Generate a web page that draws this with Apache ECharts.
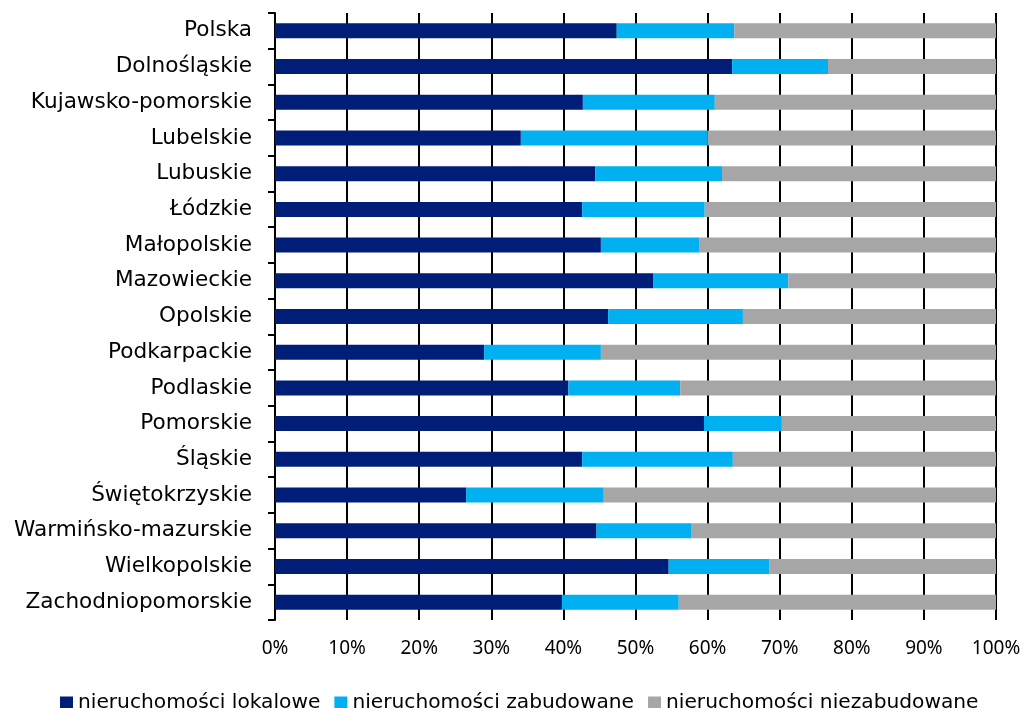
<!DOCTYPE html>
<html>
<head>
<meta charset="utf-8">
<script src="https://cdn.jsdelivr.net/npm/echarts@6/dist/echarts.min.js"></script>
<style>
html,body{margin:0;padding:0;background:#fff;}
#chart{width:1026px;height:708px;}
</style>
</head>
<body>
<div id="chart"></div>
<script>
const categories = ["Polska","Dolnośląskie","Kujawsko-pomorskie","Lubelskie","Lubuskie","Łódzkie","Małopolskie","Mazowieckie","Opolskie","Podkarpackie","Podlaskie","Pomorskie","Śląskie","Świętokrzyskie","Warmińsko-mazurskie","Wielkopolskie","Zachodniopomorskie"];
const seriesNames = ["nieruchomości lokalowe","nieruchomości zabudowane","nieruchomości niezabudowane"];
const lokalowe = [47.4,63.4,42.7,34.1,44.4,42.6,45.2,52.5,46.2,29.0,40.7,59.5,42.6,26.5,44.6,54.6,39.8];
const zabudowane = [16.3,13.3,18.3,25.9,17.6,17.0,13.7,18.7,18.7,16.2,15.5,10.8,20.9,19.1,13.1,14.0,16.2];
const niezabudowane = [36.3,23.3,39.0,40.0,38.0,40.4,41.1,28.8,35.1,54.8,43.8,29.7,36.5,54.4,42.3,31.4,44.0];
const xTicks = [0,10,20,30,40,50,60,70,80,90,100];
const colors = ["#001E78","#00B0F0","#A6A6A6"];
const FONT = "DejaVu Sans";
const FONT_X = "Noto Sans";

const chart = echarts.init(document.getElementById('chart'), null, {renderer:'canvas'});
const dataSets = [lokalowe, zabudowane, niezabudowane];
chart.setOption({
  animation:false,
  textStyle:{fontFamily:FONT},
  grid:{left:275,right:30,top:13,bottom:88,containLabel:false},
  legend:{
    top:688, left:55,
    itemWidth:13, itemHeight:13, itemGap:14,
    icon:'rect',
    textStyle:{fontFamily:FONT,fontSize:20.2,color:'#000'},
    data:seriesNames
  },
  xAxis:{
    type:'value', min:xTicks[0], max:xTicks[xTicks.length-1], interval:xTicks[1]-xTicks[0],
    axisLine:{show:false},
    axisTick:{show:false},
    splitLine:{show:true,lineStyle:{color:'#000',width:2}},
    axisLabel:{formatter:v=>v+'%',fontFamily:FONT_X,fontSize:19,color:'#000',margin:19}
  },
  yAxis:{
    type:'category', data:categories, inverse:true,
    axisLine:{show:true,lineStyle:{color:'#000',width:2}},
    axisTick:{show:true,length:7,lineStyle:{color:'#000',width:2}},
    axisLabel:{fontFamily:FONT,fontSize:21.6,color:'#000',margin:23}
  },
  series: dataSets.map((d,i)=>({
    name:seriesNames[i], type:'bar', stack:'total', data:d,
    barWidth:15, itemStyle:{color:colors[i]}
  }))
});
</script>
</body>
</html>
